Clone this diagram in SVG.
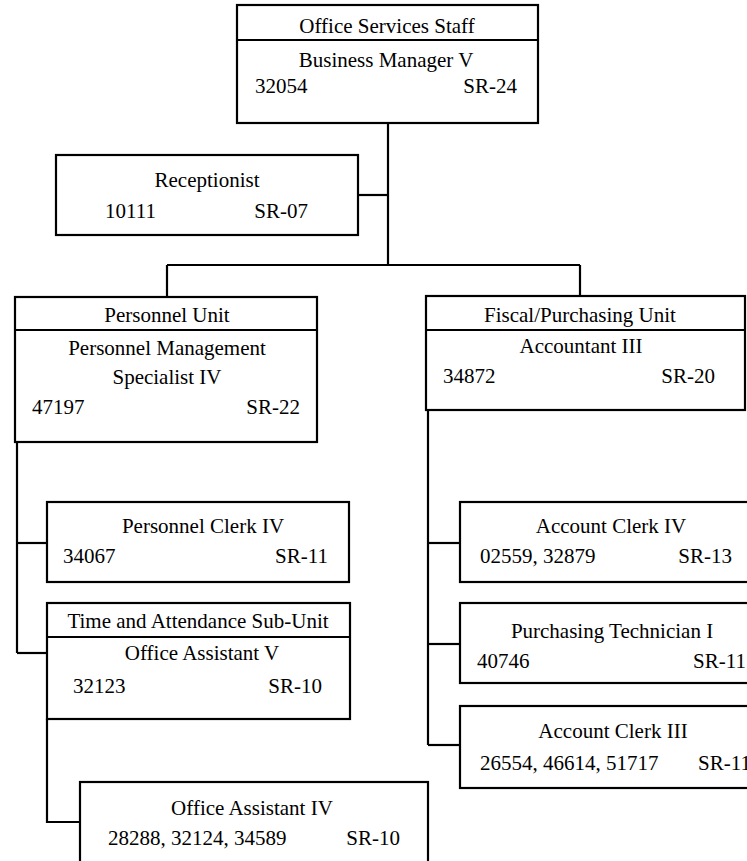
<svg xmlns="http://www.w3.org/2000/svg" width="747" height="861" viewBox="0 0 747 861">
<style>
.bg{fill:#ffffff}
.box{fill:#ffffff;stroke:#000;stroke-width:2.2}
.ln{fill:none;stroke:#000;stroke-width:2.2}
.t{font-family:"Liberation Serif","Times New Roman",serif;font-size:21px;fill:#000}
.c{text-anchor:middle}
.r{text-anchor:end}
</style>
<rect class="bg" x="0" y="0" width="747" height="861"/>
<g id="connectors">
<path class="ln" d="M388,123 V265"/>
<path class="ln" d="M358,195 H388"/>
<path class="ln" d="M167,265 H580"/>
<path class="ln" d="M167,265 V297"/>
<path class="ln" d="M580,265 V296"/>
<path class="ln" d="M17,442 V653"/>
<path class="ln" d="M17,543 H47"/>
<path class="ln" d="M17,653 H47"/>
<path class="ln" d="M47,719 V822 H80"/>
<path class="ln" d="M428,410 V745"/>
<path class="ln" d="M428,543 H460"/>
<path class="ln" d="M428,644 H460"/>
<path class="ln" d="M428,745 H460"/>
</g>
<g id="office-services-staff">
<rect class="box" x="237" y="5" width="301" height="118"/>
<path class="ln" d="M237,40 H538"/>
<text class="t c" x="387" y="33">Office Services Staff</text>
<text class="t c" x="386" y="67">Business Manager V</text>
<text class="t" x="255" y="93">32054</text>
<text class="t r" x="517" y="93">SR-24</text>
</g>
<g id="receptionist">
<rect class="box" x="56" y="155" width="302" height="80"/>
<text class="t c" x="207" y="187">Receptionist</text>
<text class="t" x="105" y="218">10111</text>
<text class="t r" x="308" y="218">SR-07</text>
</g>
<g id="personnel-unit">
<rect class="box" x="15" y="297" width="302" height="145"/>
<path class="ln" d="M15,330 H317"/>
<text class="t c" x="167" y="322">Personnel Unit</text>
<text class="t c" x="167" y="355">Personnel Management</text>
<text class="t c" x="167" y="384">Specialist IV</text>
<text class="t" x="32" y="414">47197</text>
<text class="t r" x="300" y="414">SR-22</text>
</g>
<g id="fiscal-purchasing-unit">
<rect class="box" x="426" y="296" width="319" height="114"/>
<path class="ln" d="M426,330 H745"/>
<text class="t c" x="580" y="322">Fiscal/Purchasing Unit</text>
<text class="t c" x="581" y="353">Accountant III</text>
<text class="t" x="443" y="383">34872</text>
<text class="t r" x="715" y="383">SR-20</text>
</g>
<g id="personnel-clerk-iv">
<rect class="box" x="47" y="502" width="302" height="80"/>
<text class="t c" x="203" y="533">Personnel Clerk IV</text>
<text class="t" x="63" y="563">34067</text>
<text class="t r" x="328" y="563">SR-11</text>
</g>
<g id="time-attendance">
<rect class="box" x="47" y="603" width="303" height="116"/>
<path class="ln" d="M47,637 H350"/>
<text class="t c" x="198" y="628">Time and Attendance Sub-Unit</text>
<text class="t c" x="202" y="660">Office Assistant V</text>
<text class="t" x="73" y="693">32123</text>
<text class="t r" x="322" y="693">SR-10</text>
</g>
<g id="office-assistant-iv">
<rect class="box" x="80" y="782" width="348" height="100"/>
<text class="t c" x="252" y="815">Office Assistant IV</text>
<text class="t" x="108" y="845">28288, 32124, 34589</text>
<text class="t r" x="400" y="845">SR-10</text>
</g>
<g id="account-clerk-iv">
<rect class="box" x="460" y="502" width="300" height="80"/>
<text class="t c" x="611" y="533">Account Clerk IV</text>
<text class="t" x="480" y="563">02559, 32879</text>
<text class="t r" x="732" y="563">SR-13</text>
</g>
<g id="purchasing-technician-i">
<rect class="box" x="460" y="603" width="300" height="80"/>
<text class="t c" x="612" y="638">Purchasing Technician I</text>
<text class="t" x="477" y="668">40746</text>
<text class="t r" x="746" y="668">SR-11</text>
</g>
<g id="account-clerk-iii">
<rect class="box" x="460" y="706" width="300" height="82"/>
<text class="t c" x="613" y="738">Account Clerk III</text>
<text class="t" x="480" y="770">26554, 46614, 51717</text>
<text class="t" x="698" y="770">SR-11</text>
</g>
</svg>
